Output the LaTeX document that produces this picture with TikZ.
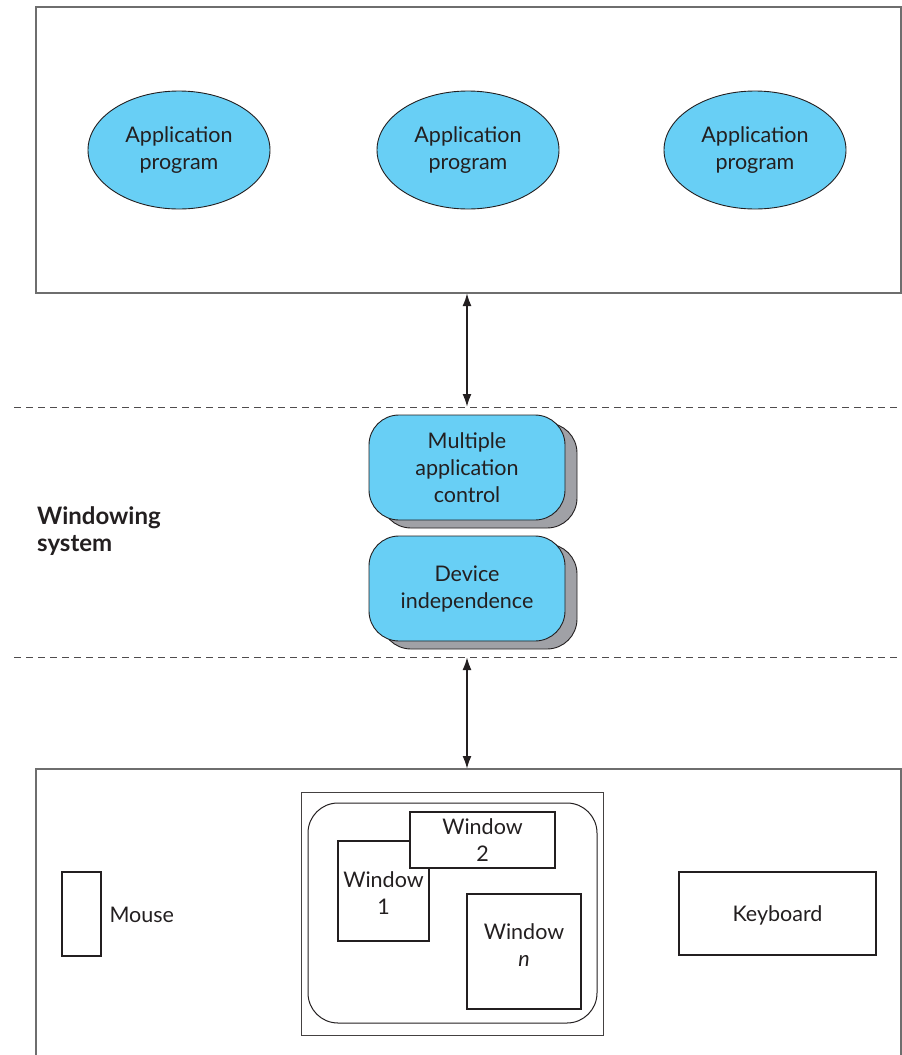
\documentclass[tikz,border=0pt]{standalone}
\usepackage{fontspec}
\setmainfont{Lato}
\usetikzlibrary{shapes.geometric,arrows.meta}
\definecolor{appblue}{RGB}{104,207,245}
\definecolor{shadowgray}{RGB}{160,161,166}
\definecolor{framegray}{RGB}{110,110,110}
\definecolor{ink}{RGB}{35,31,32}
\tikzset{
  lbl/.style={font=\fontsize{21.5}{27}\selectfont, text=ink, align=center},
  app/.style={ellipse, draw=ink, line width=0.9pt, fill=appblue, minimum width=182pt, minimum height=118pt, lbl},
  layerbox/.style={rounded corners=30pt, draw=ink, line width=0.9pt, fill=appblue, minimum width=196pt, minimum height=105pt, lbl},
  shadowbox/.style={rounded corners=30pt, draw=ink, line width=0.9pt, fill=shadowgray, minimum width=196pt, minimum height=105pt},
  frame/.style={draw=framegray, line width=1.2pt},
  winbox/.style={draw=ink, line width=2.4pt, fill=white, lbl},
  sep/.style={draw=ink!80, line width=1pt, dash pattern=on 7pt off 5pt},
  link/.style={draw=ink, line width=2pt, {Latex[length=13pt,width=9pt]}-{Latex[length=13pt,width=9pt]}}
}
\begin{document}
\begin{tikzpicture}[x=1pt,y=-1pt]
\useasboundingbox (0,0) rectangle (902,1055);
% top box
\node[frame, minimum width=865pt, minimum height=286pt, inner sep=0pt] (top) at (468.5,150) {};
\node[app] (a1) at (179,150) {Application\\program};
\node[app] (a2) at (468,150) {Application\\program};
\node[app] (a3) at (755,150) {Application\\program};
% separators
\coordinate (s1l) at (14,407); \coordinate (s1r) at (902,407);
\coordinate (s2l) at (14,657); \coordinate (s2r) at (902,657);
\draw[sep] (s1l) -- (s1r);
\draw[sep] (s2l) -- (s2r);
% windowing system
\node[shadowbox] (m1s) at (479,475.5) {};
\node[layerbox] (m1) at (467,467.5) {Multiple\\application\\control};
\node[shadowbox] (m2s) at (479,596.5) {};
\node[layerbox] (m2) at (467,588.5) {Device\\independence};
\node[font=\fontsize{24}{27}\selectfont\bfseries, text=ink, align=left, anchor=west, inner sep=0pt] (ws) at (37,531) {Windowing\\system};
% bottom box
\draw[frame] (36,1060) -- (36,769) -- (901,769) -- (901,1060);
\coordinate (bot) at (467,769);
\coordinate (topb) at (467,293);
\coordinate (sep1) at (467,407);
\coordinate (sep2) at (467,657);
\draw[link] (topb) -- (sep1);
\draw[link] (sep2) -- (bot);
% screen
\node[draw=ink!85, line width=1pt, minimum width=302pt, minimum height=243pt, inner sep=0pt] (scr) at (452,913.5) {};
\node[draw=ink, line width=1pt, rounded corners=30pt, minimum width=289pt, minimum height=220pt, inner sep=0pt] (scrin) at (452.5,913) {};
\node[winbox, minimum width=91pt, minimum height=100pt, inner sep=0pt] (w1) at (383.5,891) {};
\node[lbl] (w1t) at (383.5,893) {Window\\1};
\node[winbox, minimum width=145pt, minimum height=56pt, inner sep=0pt] (w2) at (482.5,840) {Window\\2};
\node[winbox, minimum width=114pt, minimum height=115pt, inner sep=0pt] (wn) at (524,951.5) {};
\node[lbl] (wnt) at (524,945) {Window\\\textit{n}};
% mouse & keyboard
\node[draw=ink, line width=2.4pt, minimum width=39pt, minimum height=84pt, inner sep=0pt] (mouse) at (81.5,914) {};
\node[lbl, anchor=west] (mlbl) at (106,915) {Mouse};
\node[draw=ink, line width=2.4pt, minimum width=197pt, minimum height=83pt, inner sep=0pt] (kb) at (777.5,913.5) {};
\node[lbl] (kbt) at (777.5,915) {Keyboard};
\end{tikzpicture}
\end{document}
